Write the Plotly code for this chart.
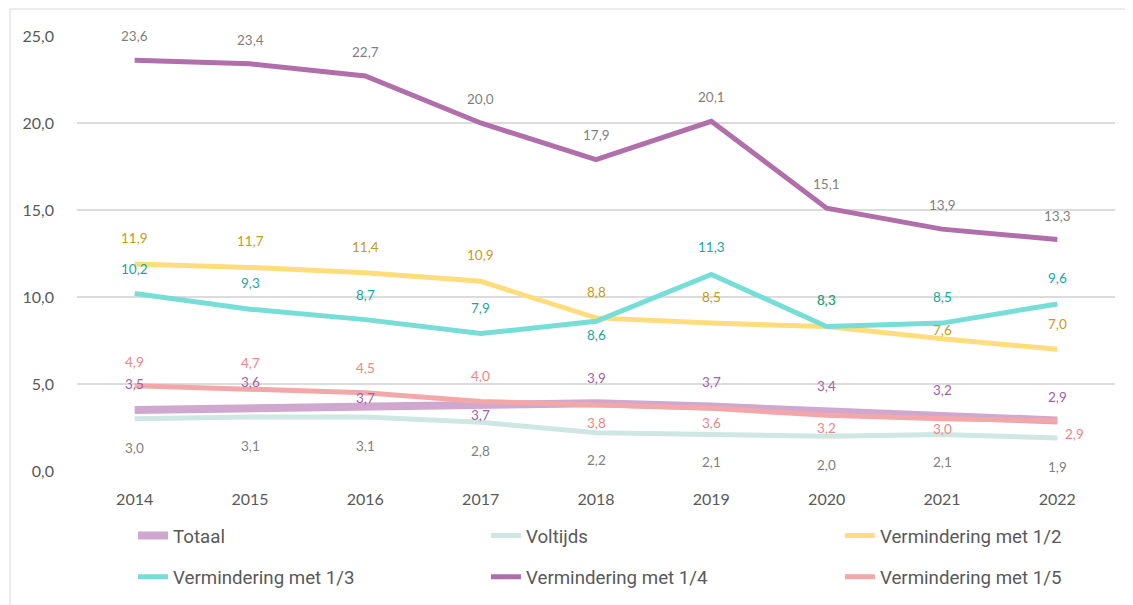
import plotly.graph_objects as go

years = ["2014", "2015", "2016", "2017", "2018", "2019", "2020", "2021", "2022"]
totaal = [3.5, 3.6, 3.7, 3.7, 3.9, 3.7, 3.4, 3.2, 2.9]
voltijds = [3.0, 3.1, 3.1, 2.8, 2.2, 2.1, 2.0, 2.1, 1.9]
verm_1_2 = [11.9, 11.7, 11.4, 10.9, 8.8, 8.5, 8.3, 7.6, 7.0]
verm_1_3 = [10.2, 9.3, 8.7, 7.9, 8.6, 11.3, 8.3, 8.5, 9.6]
verm_1_4 = [23.6, 23.4, 22.7, 20.0, 17.9, 20.1, 15.1, 13.9, 13.3]
verm_1_5 = [4.9, 4.7, 4.5, 4.0, 3.8, 3.6, 3.2, 3.0, 2.9]

names = ["Totaal", "Voltijds", "Vermindering met 1/2",
         "Vermindering met 1/3", "Vermindering met 1/4", "Vermindering met 1/5"]
values = [totaal, voltijds, verm_1_2, verm_1_3, verm_1_4, verm_1_5]

# styles
line_colors = ["#d0a8cf", "#cfe7e3", "#ffdd7d", "#76ddd7", "#b06eab", "#f4a7a9"]
line_widths = [8, 5, 5, 5, 5, 5]
label_colors = ["#a361a7", "#7f7f7f", "#c99a12", "#18a79f", "#7f7f7f", "#f08585"]
label_yshift = [
    [26, 26, 9, -8, 25, 25, 26, 25, 24],
    [-29, -29, -29, -29, -27, -28, -29, -28, -29],
    [26, 26, 26, 26, 26, 26, 27, 9, 25],
    [25, 26, 25, 26, -14, 27, 27, 26, 26],
    [24, 24, 24, 24, 25, 24, 24, 24, 24],
    [24, 26, 25, 25, -18, -15, -13, -10, -13],
]
label_xshift = [
    [0] * 9, [0] * 9, [0] * 9, [0] * 9, [0] * 9,
    [0, 0, 0, 0, 0, 0, 0, 0, 17],
]
# legend slot per series: (x paper, y paper)
legend_pos = [(0.054, -0.149), (0.394, -0.149), (0.735, -0.149),
              (0.054, -0.244), (0.394, -0.244), (0.735, -0.244)]
legend_ids = ["legend", "legend2", "legend3", "legend4", "legend5", "legend6"]

fig = go.Figure()
annotations = []
for i, (nm, vals) in enumerate(zip(names, values)):
    fig.add_trace(go.Scatter(
        x=years, y=vals, name=nm, mode="lines",
        line=dict(color=line_colors[i], width=line_widths[i]),
        legend=legend_ids[i], hoverinfo="x+y+name",
    ))
    for j, v in enumerate(vals):
        annotations.append(dict(
            x=j, y=v, xref="x", yref="y", text=f"{v:.1f}".replace(".", ","),
            showarrow=False, yshift=label_yshift[i][j], xshift=label_xshift[i][j],
            font=dict(family="Lato, Roboto, sans-serif", size=13.5, color=label_colors[i]),
        ))

legend_layout = {}
for i, lid in enumerate(legend_ids):
    legend_layout[lid] = dict(
        orientation="h", x=legend_pos[i][0], y=legend_pos[i][1],
        xanchor="left", yanchor="middle",
        font=dict(family="Roboto, sans-serif", size=18.7, color="#595959"),
        bgcolor="rgba(0,0,0,0)",
    )

# page body has an 8px default margin, so the figure is 8px smaller than the window
fig.update_layout(
    width=1125, height=597,
    margin=dict(l=69, r=18, t=28, b=134, autoexpand=False),
    plot_bgcolor="white", paper_bgcolor="white",
    separators=",.",
    font=dict(family="Lato, Roboto, sans-serif", color="#595959"),
    annotations=annotations,
    xaxis=dict(
        type="category", range=[-0.5, 8.5], showgrid=False, zeroline=False,
        showline=False, ticks="", tickfont=dict(size=16, color="#595959"),
        ticklabelstandoff=17,
    ),
    yaxis=dict(
        range=[0, 25], dtick=5, tickformat=".1f", showgrid=True,
        gridcolor="#dcdcdc", gridwidth=1.5, zeroline=False, showline=False,
        ticks="", tickfont=dict(size=16, color="#595959"), ticklabelstandoff=22,
    ),
    shapes=[dict(
        type="rect", xref="paper", yref="paper",
        x0=-0.0645, x1=1.2, y0=-0.6, y1=1.062,
        line=dict(color="#d9d9d9", width=1), layer="below",
    )],
    showlegend=True,
    **legend_layout,
)

fig.write_html("out.html")
